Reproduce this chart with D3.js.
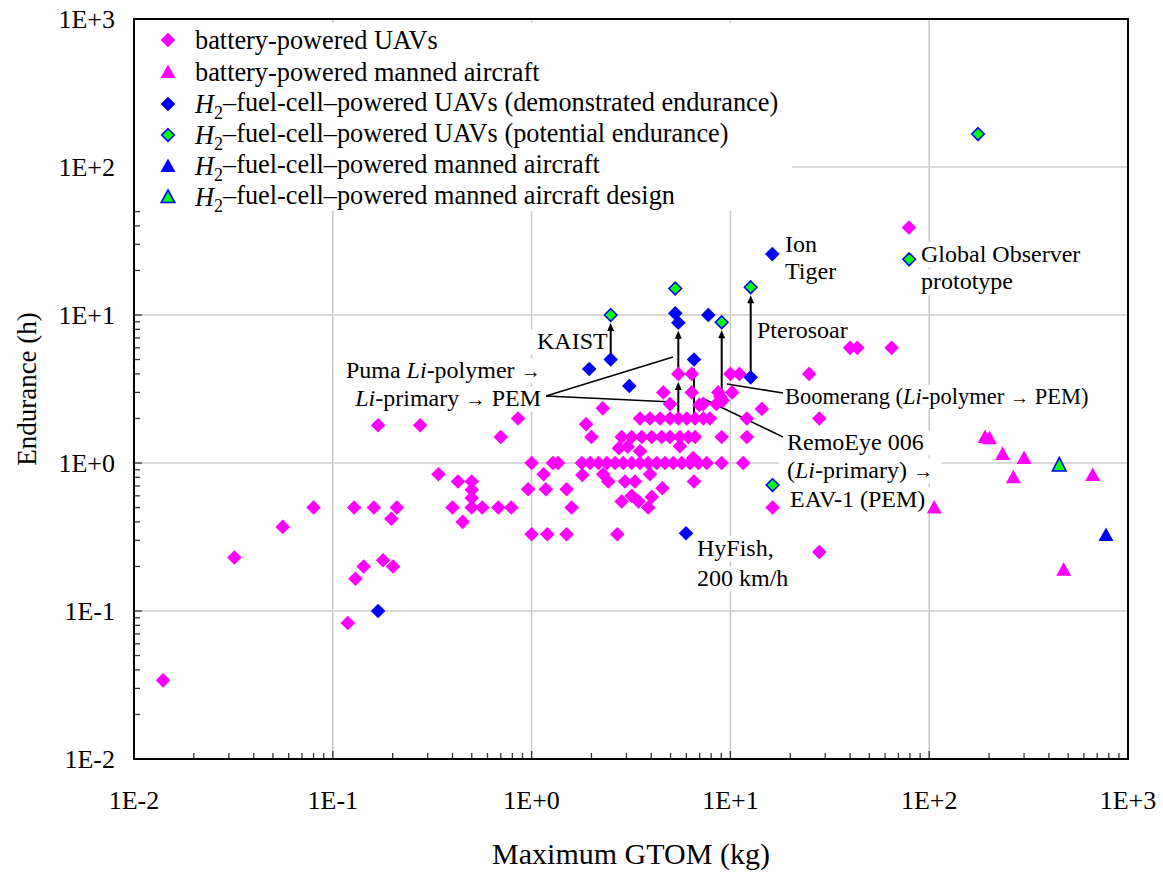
<!DOCTYPE html>
<html><head><meta charset="utf-8">
<script src="https://cdn.jsdelivr.net/npm/d3@7"></script>
</head>
<body style="margin:0;background:#fff"><svg id="c" width="1163" height="873"></svg>
<script>
// ---------- DATA (x = maximum GTOM in kg, y = endurance in h) ----------
const batteryUAVs = [
 [0.014,0.034],[0.032,0.23],[0.056,0.37],[0.08,0.5],[0.128,0.5],[0.161,0.5],[0.21,0.5],[0.197,0.42],
 [0.169,1.8],[0.275,1.8],[0.855,2],[0.70,1.5],[0.34,0.84],[0.426,0.75],[0.50,0.75],[0.50,0.66],
 [0.50,0.58],[0.50,0.5],[0.565,0.5],[0.40,0.5],[0.68,0.5],[0.79,0.5],[0.45,0.4],[0.13,0.165],
 [0.143,0.2],[0.179,0.22],[0.201,0.2],[0.119,0.083],
 [5.47,4],[6.39,4],[10.0,4],[11.1,4],[24.9,4],
 [4.6,3],[6.39,3],[8.69,3],[10.2,3],
 [6.98,2.47],[8.5,2.5],[9.15,2.64],[8.9,2.8],[2.28,2.34],[14.4,2.32],[4.97,2.5],[7.3,2.5],
 [1.88,1.83],[2.0,1.5],
 [3.51,2],[3.94,2],[4.43,2],[4.97,2],[5.47,2],[6.03,2],[6.64,2],[7.31,2],[7.89,2],[12.1,2],
 [2.84,1.5],[3.19,1.5],[3.58,1.5],[4.02,1.5],[4.51,1.5],[4.97,1.5],[5.57,1.5],[6.14,1.5],[6.64,1.5],[9.04,1.5],[12.1,1.5],
 [2.75,1.26],[3.04,1.29],[3.51,1.2],[5.57,1.3],[6.5,1.08],
 [1.0,1],[1.28,1],[1.36,1],[1.79,1],[1.97,1],[2.17,1],[2.39,1],[2.63,1],[2.89,1],[3.19,1],[3.51,1],
 [3.86,1],[4.26,1],[4.69,1],[5.16,1],[5.69,1],[6.26,1],[6.90,1],[7.60,1],[9.04,1],[11.6,1],
 [1.15,0.84],[1.8,0.83],[2.29,0.84],[2.43,0.75],[2.95,0.75],[3.31,0.75],[3.94,0.84],[4.55,0.675],
 [6.56,0.75],[0.96,0.665],[1.18,0.665],[1.5,0.665],[2.84,0.55],[3.19,0.6],[3.45,0.55],[4.02,0.59],
 [3.86,0.5],[1.59,0.5],[1.0,0.33],[1.2,0.33],[1.5,0.33],[2.7,0.33],
 [16.3,0.5],[28,2],[28,0.25],[40,6],[43.5,6],[64.7,6],[79.1,39]
];
const batteryManned = [[191,1.5],[201,1.47],[234,1.15],[300,1.08],[265,0.80],[664,0.83],[106,0.5],[475,0.19]];
const h2UAVsDemonstrated = [[0.169,0.1],[1.95,4.32],[2.5,5],[3.1,3.31],[5.28,10.26],[5.47,8.87],[6.56,5],[7.74,10],[12.65,3.79],[16.25,25.8],[5.98,0.335]];
const h2UAVsPotential = [[2.5,10],[5.28,15.1],[9.04,8.93],[12.65,15.4],[16.3,0.71],[79.3,23.8],[176,167]];
const h2Manned = [[775,0.326]];
const h2MannedDesign = [[451,0.97]];
// upgrade arrows: [x, from y, to y]
const upgradeArrows = [[2.5,5,10],[5.47,2,4],[5.47,4,8.87],[6.56,2,5],[9.04,2.8,8.93],[12.65,3.79,15.4]];
const tickValues = [1e-2,1e-1,1e0,1e1,1e2,1e3];
const tickLabels = ["1E-2","1E-1","1E+0","1E+1","1E+2","1E+3"];
const legendLabels = [
 ["","battery-powered UAVs"],
 ["","battery-powered manned aircraft"],
 ["H","–fuel-cell–powered UAVs (demonstrated endurance)"],
 ["H","–fuel-cell–powered UAVs (potential endurance)"],
 ["H","–fuel-cell–powered manned aircraft"],
 ["H","–fuel-cell–powered manned aircraft design"]
];

// ---------- LAYOUT ----------
const L=134,R=1128,T=19,B=759;
const FONT="Liberation Serif";
const svg=d3.select("#c");
const x=d3.scaleLog().domain([1e-2,1e3]).range([L,R]);
const y=d3.scaleLog().domain([1e-2,1e3]).range([B,T]);
const MAG="#ff00ff",BLUE="#0000ff",GREEN="#00ff00";

// grid
const grid=svg.append("g");
tickValues.slice(1,-1).forEach(v=>{
  grid.append("line").attr("x1",x(v)).attr("x2",x(v)).attr("y1",T).attr("y2",B).attr("stroke","#c8c8c8").attr("stroke-width",1.5);
  grid.append("line").attr("y1",y(v)).attr("y2",y(v)).attr("x1",L).attr("x2",R).attr("stroke","#d9d9d9").attr("stroke-width",2);
});

// minor ticks
const axg=svg.append("g").attr("stroke","#333").attr("stroke-width",1.3);
for(let e=-2;e<3;e++){for(let k=1;k<10;k++){const v=k*Math.pow(10,e);
  const len=k===1?8:6;
  if(v>1e-2){
    axg.append("line").attr("x1",x(v)).attr("x2",x(v)).attr("y1",B).attr("y2",B-len);
    axg.append("line").attr("y1",y(v)).attr("y2",y(v)).attr("x1",L).attr("x2",L+len);
  }}}

const bgLayer=svg.append("g");
const lineLayer=svg.append("g");
const markLayer=svg.append("g");
const textLayer=svg.append("g");

function txt(g){return g.append("text").attr("font-family",FONT).attr("fill","#000");}

// tick labels
tickValues.forEach((v,i)=>{
  txt(svg).attr("x",x(v)).attr("y",800).attr("dy","0.35em").attr("text-anchor","middle").attr("font-size",26).text(tickLabels[i]);
  txt(svg).attr("x",115).attr("y",y(v)).attr("dy","0.35em").attr("text-anchor","end").attr("font-size",26).text(tickLabels[i]);
});
txt(svg).attr("x",(L+R)/2).attr("y",853).attr("dy","0.35em").attr("text-anchor","middle").attr("font-size",30).text("Maximum GTOM (kg)");
txt(svg).attr("transform",`translate(27,${(T+B)/2}) rotate(-90)`).attr("dy","0.35em").attr("text-anchor","middle").attr("font-size",27).text("Endurance (h)");

// markers
function diamond(g,d,fill,stroke,h){
  g.append("path").attr("d",`M${x(d[0])},${y(d[1])-h}l${h},${h}l${-h},${h}l${-h},${-h}z`).attr("fill",fill).attr("stroke",stroke||"none").attr("stroke-width",stroke?1.6:0);
}
function tri(g,d,fill,stroke,w){
  const cx=x(d[0]),cy=y(d[1]);
  g.append("path").attr("d",`M${cx},${cy-7.5}L${cx+w},${cy+6}L${cx-w},${cy+6}z`).attr("fill",fill).attr("stroke",stroke||"none").attr("stroke-width",stroke?1.6:0);
}

// arrows
upgradeArrows.forEach(a=>{
  const cx=x(a[0]),y0=y(a[1]),y1=y(a[2])+8;
  lineLayer.append("line").attr("x1",cx).attr("x2",cx).attr("y1",y0).attr("y2",y1+5).attr("stroke","#000").attr("stroke-width",2);
  lineLayer.append("path").attr("d",`M${cx},${y1}l3.5,8h-7z`).attr("fill","#000");
});

batteryUAVs.forEach(d=>diamond(markLayer,d,MAG,null,7.3));
batteryManned.forEach(d=>tri(markLayer,d,MAG,null,7.5));
h2UAVsDemonstrated.forEach(d=>diamond(markLayer,d,BLUE,null,7.3));
h2UAVsPotential.forEach(d=>diamond(markLayer,d,GREEN,BLUE,6.3));
h2Manned.forEach(d=>tri(markLayer,d,BLUE,null,7.5));
h2MannedDesign.forEach(d=>tri(markLayer,d,GREEN,BLUE,6.8));

// legend
bgLayer.append("rect").attr("x",L+1).attr("y",23).attr("width",657).attr("height",188).attr("fill","#fff");
const legRows=[40,72,104,135,166,197];
const legMarks=[
 (g,cy)=>g.append("path").attr("d",`M168,${cy-7.3}l7.3,7.3l-7.3,7.3l-7.3,-7.3z`).attr("fill",MAG),
 (g,cy)=>g.append("path").attr("d",`M168,${cy-7.5}L175.5,${cy+6}L160.5,${cy+6}z`).attr("fill",MAG),
 (g,cy)=>g.append("path").attr("d",`M168,${cy-7.3}l7.3,7.3l-7.3,7.3l-7.3,-7.3z`).attr("fill",BLUE),
 (g,cy)=>g.append("path").attr("d",`M168,${cy-6.3}l6.3,6.3l-6.3,6.3l-6.3,-6.3z`).attr("fill",GREEN).attr("stroke",BLUE).attr("stroke-width",1.6),
 (g,cy)=>g.append("path").attr("d",`M168,${cy-7.5}L175.5,${cy+6}L160.5,${cy+6}z`).attr("fill",BLUE),
 (g,cy)=>g.append("path").attr("d",`M168,${cy-7}L174.8,${cy+5.5}L161.2,${cy+5.5}z`).attr("fill",GREEN).attr("stroke",BLUE).attr("stroke-width",1.6)
];
legendLabels.forEach((lab,i)=>{
  const cy=legRows[i];
  legMarks[i](textLayer,cy);
  const t=txt(textLayer).attr("x",195).attr("y",cy).attr("dy","0.35em").attr("font-size",26.3);
  if(lab[0]){
    t.append("tspan").attr("font-style","italic").text("H");
    t.append("tspan").attr("font-size",18).attr("dy","0.3em").text("2");
    t.append("tspan").attr("dy","-0.3em").text(lab[1]);
  } else t.text(lab[1]);
});

// annotations
const annotations=[
 {x:785,y:244,a:"start",parts:[["Ion"]]},
 {x:785,y:271,a:"start",parts:[["Tiger"]]},
 {x:921,y:254,a:"start",parts:[["Global Observer"]]},
 {x:921,y:281,a:"start",parts:[["prototype"]]},
 {x:537,y:341,a:"start",parts:[["KAIST"]]},
 {x:757,y:330,a:"start",parts:[["Pterosoar"]]},
 {x:541,y:370,a:"end",parts:[["Puma "],["Li","i"],["-polymer "],["→","a"]]},
 {x:541,y:398,a:"end",parts:[["Li","i"],["-primary "],["→","a"],[" PEM"]]},
 {x:785,y:396,a:"start",parts:[["Boomerang ("],["Li","i"],["-polymer "],["→","a"],[" PEM)"]],fs:22.5},
 {x:787,y:442,a:"start",parts:[["RemoEye 006"]]},
 {x:787,y:470,a:"start",parts:[["("],["Li","i"],["-primary) "],["→","a"]]},
 {x:790,y:499,a:"start",parts:[["EAV-1 (PEM)"]]},
 {x:697,y:548,a:"start",parts:[["HyFish,"]]},
 {x:697,y:578,a:"start",parts:[["200 km/h"]]}
];
annotations.forEach(an=>{
  const fs=an.fs||24;
  const t=txt(textLayer).attr("x",an.x).attr("y",an.y).attr("dy","0.35em").attr("text-anchor",an.a).attr("font-size",fs);
  an.parts.forEach(p=>{const s=t.append("tspan").text(p[0]);
    if(p[1]==="i")s.attr("font-style","italic");
    if(p[1]==="a")s.attr("font-size",fs*0.85);});
  const bb=t.node().getBBox();
  bgLayer.append("rect").attr("x",bb.x-8).attr("y",bb.y+1).attr("width",bb.width+16).attr("height",bb.height-1).attr("fill","#fff");
});

// leader lines (label anchor -> point)
const leaders=[[546,396,673,357],[546,396,673,402],[783,393,727,384],[783,437,702,398]];
leaders.forEach(l=>lineLayer.append("line").attr("x1",l[0]).attr("y1",l[1]).attr("x2",l[2]).attr("y2",l[3]).attr("stroke","#000").attr("stroke-width",1.5));

// frame
svg.append("rect").attr("x",L).attr("y",T).attr("width",R-L).attr("height",B-T).attr("fill","none").attr("stroke","#000").attr("stroke-width",2);
</script></body></html>
